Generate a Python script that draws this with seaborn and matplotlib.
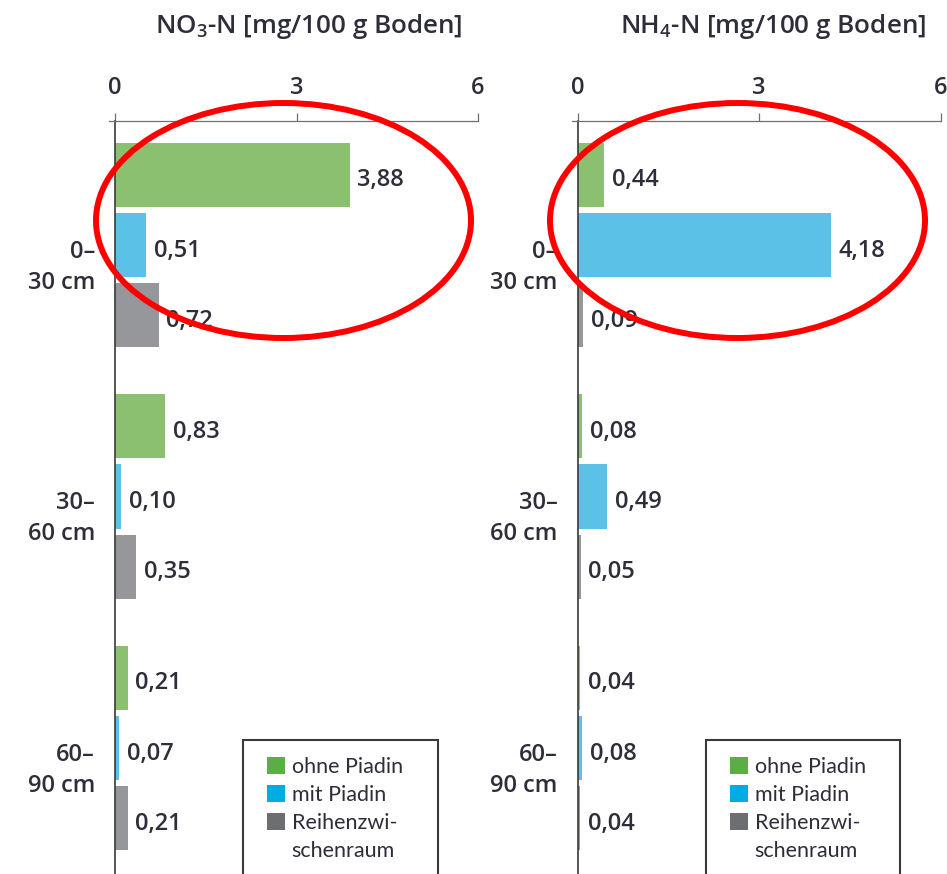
import pandas as pd
import matplotlib.pyplot as plt
import seaborn as sns
from matplotlib.patches import Ellipse, Rectangle, Patch
from matplotlib.transforms import ScaledTranslation

# Values (mg / 100 g Boden)
tiefen = ["0–\n30 cm", "30–\n60 cm", "60–\n90 cm"]
varianten = ["ohne Piadin", "mit Piadin", "Reihenzwischenraum"]
no3_ohne = [3.88, 0.83, 0.21]
no3_mit = [0.51, 0.10, 0.07]
no3_reihe = [0.72, 0.35, 0.21]
nh4_ohne = [0.44, 0.08, 0.04]
nh4_mit = [4.18, 0.49, 0.08]
nh4_reihe = [0.09, 0.05, 0.04]
x_ticks = [0, 3, 6]
legend_labels = ["ohne Piadin", "mit Piadin", "Reihenzwi-", "schenraum"]

bar_colors = ["#8bc070", "#5bc1e6", "#96979a"]
legend_colors = ["#5aae45", "#00ade0", "#6d6e71"]
text_col = "#2e2e3a"

sns.set_style("white")
plt.rcParams["font.family"] = ["Open Sans", "DejaVu Sans"]


def make_df(ohne, mit, reihe):
    rows = []
    for name, vals in zip(varianten, [ohne, mit, reihe]):
        for t, v in zip(tiefen, vals):
            rows.append({"Tiefe": t, "Variante": name, "Wert": v})
    return pd.DataFrame(rows)


df_no3 = make_df(no3_ohne, no3_mit, no3_reihe)
df_nh4 = make_df(nh4_ohne, nh4_mit, nh4_reihe)

W, H = 947, 874
fig = plt.figure(figsize=(W / 100, H / 100), dpi=100)
down = lambda px: ScaledTranslation(0, -px / 100, fig.dpi_scale_trans)

# axes boxes in pixels: (left, right) ; top of both at y=121, bottom at figure edge
panels = [
    (df_no3, 109, 478, "NO$_{\\mathregular{3}}$-N [mg/100 g Boden]", 463, 283.5, 243, 438),
    (df_nh4, 571.6, 940.7, "NH$_{\\mathregular{4}}$-N [mg/100 g Boden]", 926, 737.5, 706, 900),
]

for df, x_left, x_right, title, title_x, ell_x, leg_l, leg_r in panels:
    ax = fig.add_axes([x_left / W, 0, (x_right - x_left) / W, (H - 121) / H])
    sns.barplot(data=df, x="Wert", y="Tiefe", hue="Variante", orient="h",
                order=tiefen, hue_order=varianten, palette=bar_colors, saturation=1,
                width=0.84, gap=0.09, linewidth=0, legend=False, ax=ax)

    # value labels with German decimal comma
    for cont, name in zip(ax.containers, varianten):
        vals = df[df["Variante"] == name]["Wert"].tolist()
        txts = ax.bar_label(cont, labels=[f"{v:.2f}".replace(".", ",") for v in vals],
                            padding=5.5, fontsize=17, fontweight="semibold", color=text_col)
        for t in txts:
            ox, oy = t.xyann
            t.xyann = (ox, oy - 4)

    ax.set_xlim(-0.1, 6)
    ax.set_ylim(2.501, -0.493)
    ax.set_xlabel("")
    ax.set_ylabel("")

    # axis styling: only top line and zero line
    for s in ["right", "bottom"]:
        ax.spines[s].set_visible(False)
    ax.spines["left"].set_position(("data", 0))
    ax.spines["left"].set_color("#3a3a3a")
    ax.spines["left"].set_linewidth(1.2)
    ax.spines["top"].set_color("#707070")
    ax.spines["top"].set_linewidth(0.9)

    ax.xaxis.tick_top()
    ax.set_xticks(x_ticks)
    ax.set_xticklabels([str(t) for t in x_ticks])
    ax.tick_params(axis="x", top=True, length=6, width=0.9, color="#707070",
                   pad=9, labelsize=17, labelcolor=text_col)
    ax.tick_params(axis="y", left=False, length=0, pad=14.5, labelsize=17,
                   labelcolor=text_col)
    for lab in ax.get_xticklabels():
        lab.set_fontweight("semibold")
    for lab in ax.get_yticklabels():
        lab.set_fontweight("semibold")
        lab.set_linespacing(1.38)
        lab.set_transform(lab.get_transform() + down(16))

    # panel title above the axis
    fig.text(title_x / W, 1 - 33 / H, title, ha="right", va="baseline",
             fontsize=18.7, fontweight="semibold", color=text_col)

    # legend box (runs off the bottom edge like the original)
    fig.add_artist(Rectangle((leg_l / W, -0.05), (leg_r - leg_l) / W, (H - 740) / H + 0.05,
                             transform=fig.transFigure, fill=False,
                             edgecolor="#3a3a3a", linewidth=1.5, zorder=4))
    handles = [Patch(facecolor=c, edgecolor="none") for c in legend_colors]
    handles.append(Patch(facecolor="none", edgecolor="none"))
    fig.legend(handles=handles, labels=legend_labels, loc="upper left",
               bbox_to_anchor=((leg_l + 24) / W, 1 - 757 / H),
               bbox_transform=fig.transFigure, frameon=False,
               prop={"family": ["Lato", "DejaVu Sans"], "size": 15.5},
               labelcolor=text_col, handlelength=0.84, handleheight=0.78,
               handletextpad=0.3, labelspacing=0.37, borderpad=0, borderaxespad=0)

    # red highlight ellipse round the top group
    fig.add_artist(Ellipse((ell_x / W, 1 - 220.5 / H), 375 / W, 235 / H,
                           transform=fig.transFigure, fill=False,
                           edgecolor="#ff0000", linewidth=4.3, zorder=10))

fig.savefig("out.png", dpi=100)
